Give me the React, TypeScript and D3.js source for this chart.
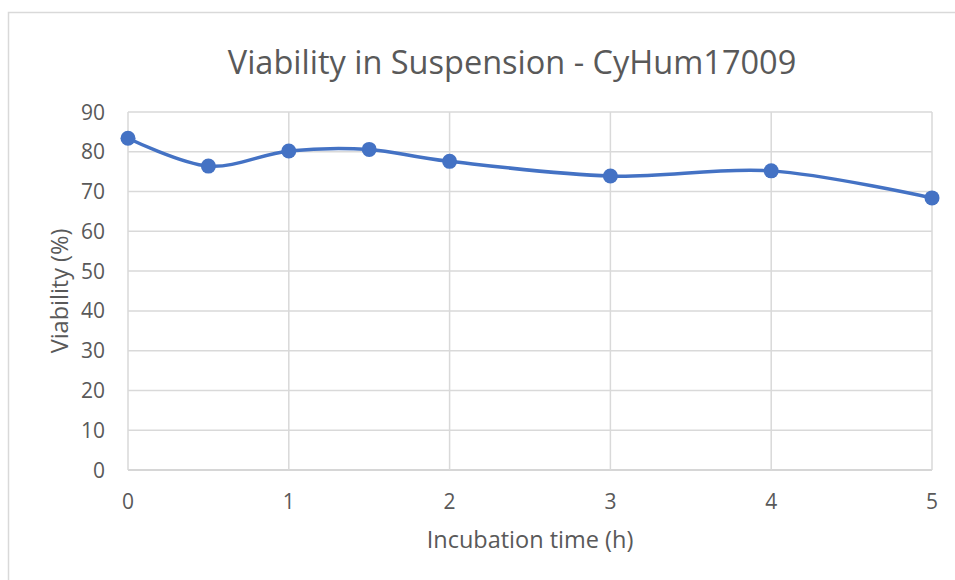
import React, { useEffect, useRef } from "react";
import * as d3 from "d3";

const hours = [0, 0.5, 1, 1.5, 2, 3, 4, 5];
const viability = [83.4, 76.4, 80.2, 80.6, 77.6, 73.9, 75.2, 68.4];
const yTicks = [0, 10, 20, 30, 40, 50, 60, 70, 80, 90];
const xTicks = [0, 1, 2, 3, 4, 5];

const width = 955;
const height = 580;
const font = "'Open Sans', sans-serif";
const textColor = "#595959";
const lineColor = "#4472C4";

const App = () => {
  const ref = useRef<SVGSVGElement>(null);

  useEffect(() => {
    const svg = d3.select(ref.current);
    svg.selectAll("*").remove();

    const x = d3.scaleLinear().domain([0, 5]).range([128, 932]);
    const y = d3.scaleLinear().domain([0, 90]).range([470, 112]);

    // chart frame
    svg
      .append("rect")
      .attr("x", 8.5)
      .attr("y", 12.5)
      .attr("width", 960)
      .attr("height", 600)
      .attr("fill", "#fff")
      .attr("stroke", "#d9d9d9")
      .attr("stroke-width", 1.5);

    // gridlines
    svg
      .append("g")
      .selectAll("line")
      .data(yTicks)
      .join("line")
      .attr("x1", x(0))
      .attr("x2", x(5))
      .attr("y1", d => y(d))
      .attr("y2", d => y(d))
      .attr("stroke", d => (d === 0 ? "#c8c8c8" : "#d9d9d9"))
      .attr("stroke-width", 1.5);

    svg
      .append("g")
      .selectAll("line")
      .data(xTicks)
      .join("line")
      .attr("x1", d => x(d))
      .attr("x2", d => x(d))
      .attr("y1", y(90))
      .attr("y2", y(0))
      .attr("stroke", "#d9d9d9")
      .attr("stroke-width", 1.5);

    // tick labels
    svg
      .append("g")
      .selectAll("text")
      .data(yTicks)
      .join("text")
      .attr("x", 105)
      .attr("y", d => y(d))
      .attr("dy", "0.36em")
      .attr("text-anchor", "end")
      .attr("font-family", font)
      .attr("font-size", 21)
      .attr("fill", textColor)
      .text(d => d);

    svg
      .append("g")
      .selectAll("text")
      .data(xTicks)
      .join("text")
      .attr("x", d => x(d))
      .attr("y", 509)
      .attr("text-anchor", "middle")
      .attr("font-family", font)
      .attr("font-size", 21)
      .attr("fill", textColor)
      .text(d => d);

    // titles
    svg
      .append("text")
      .attr("x", 512)
      .attr("y", 74)
      .attr("text-anchor", "middle")
      .attr("font-family", font)
      .attr("font-size", 32.5)
      .attr("fill", textColor)
      .text("Viability in Suspension - CyHum17009");

    svg
      .append("text")
      .attr("x", 530)
      .attr("y", 548)
      .attr("text-anchor", "middle")
      .attr("font-family", font)
      .attr("font-size", 23.5)
      .attr("fill", textColor)
      .text("Incubation time (h)");

    svg
      .append("text")
      .attr("transform", `translate(68,${(y(0) + y(90)) / 2}) rotate(-90)`)
      .attr("text-anchor", "middle")
      .attr("font-family", font)
      .attr("font-size", 23.5)
      .attr("fill", textColor)
      .text("Viability (%)");

    // series
    const points = hours.map((h, i) => [h, viability[i]] as [number, number]);
    const line = d3
      .line<[number, number]>()
      .x(d => x(d[0]))
      .y(d => y(d[1]))
      .curve(d3.curveCardinal.tension(0));

    svg
      .append("path")
      .attr("d", line(points))
      .attr("fill", "none")
      .attr("stroke", lineColor)
      .attr("stroke-width", 3.5)
      .attr("stroke-linecap", "round");

    svg
      .append("g")
      .selectAll("circle")
      .data(points)
      .join("circle")
      .attr("cx", d => x(d[0]))
      .attr("cy", d => y(d[1]))
      .attr("r", 7.5)
      .attr("fill", lineColor);
  }, []);

  return (
    <svg
      ref={ref}
      width={width}
      height={height}
      style={{ position: "absolute", left: 0, top: 0 }}
    ></svg>
  );
};

export default App;
